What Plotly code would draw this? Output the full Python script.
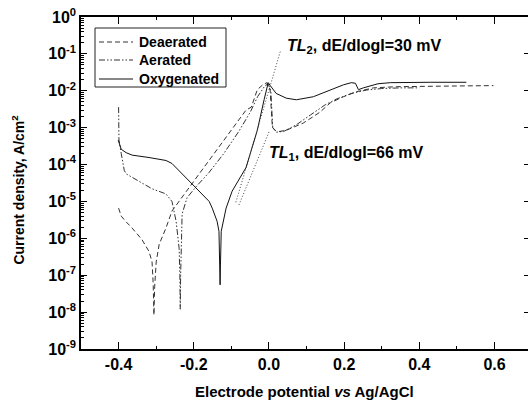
import numpy as np
import plotly.graph_objects as go

# ---------------- data ----------------
E_dea = [-0.400, -0.393, -0.380, -0.364, -0.338, -0.319, -0.311, -0.308, -0.306, -0.304,
         -0.300, -0.292, -0.274, -0.258, -0.220, -0.180, -0.140, -0.100, -0.061, -0.047,
         -0.031, -0.015, -0.005, 0.003, 0.009, 0.019, 0.025, 0.046, 0.073, 0.091,
         0.118, 0.136, 0.163, 0.198, 0.232, 0.278, 0.339, 0.429, 0.500, 0.597]
I_dea = [6.6e-6, 4.0e-6, 2.8e-6, 1.9e-6, 9.3e-7, 4.4e-7, 2.3e-7, 6e-8, 8.3e-9, 5e-8,
         2.3e-7, 6.9e-7, 1.9e-6, 5.5e-6, 1.86e-5, 6.6e-5, 2.4e-4, 8.5e-4, 3.0e-3, 3.6e-3,
         1.07e-2, 1.5e-2, 1.66e-2, 1.07e-2, 1.03e-3, 8.0e-4, 7.8e-4, 8.5e-4, 1.1e-3, 1.33e-3,
         2.0e-3, 2.65e-3, 4.7e-3, 6.9e-3, 9.4e-3, 1.2e-2, 1.29e-2, 1.29e-2, 1.35e-2, 1.38e-2]

E_aer = [-0.400, -0.399, -0.393, -0.385, -0.380, -0.338, -0.311, -0.274, -0.258, -0.247,
         -0.239, -0.237, -0.236, -0.235, -0.234, -0.231, -0.218, -0.194, -0.160, -0.120,
         -0.080, -0.050, -0.030, -0.010, -0.002, 0.005, 0.010, 0.020, 0.040, 0.073,
         0.110, 0.150, 0.180, 0.220, 0.260, 0.300, 0.350, 0.400]
I_aer = [3.6e-3, 4.6e-4, 2.0e-4, 7.0e-5, 5.6e-5, 3.2e-5, 2.2e-5, 1.6e-5, 1.0e-5, 2.9e-6,
         5.4e-7, 1.0e-7, 1.2e-8, 1.0e-7, 5.4e-7, 4.6e-6, 1.26e-5, 2.5e-5, 6.0e-5, 2.0e-4,
         8.0e-4, 2.6e-3, 7.0e-3, 1.4e-2, 1.5e-2, 1.0e-2, 1.0e-3, 7.5e-4, 8.0e-4, 1.2e-3,
         2.2e-3, 4.2e-3, 6.0e-3, 8.5e-3, 1.05e-2, 1.15e-2, 1.2e-2, 1.2e-2]

E_oxy = [-0.401, -0.393, -0.380, -0.364, -0.319, -0.274, -0.258, -0.231, -0.194, -0.159,
         -0.151, -0.138, -0.133, -0.131, -0.130, -0.129, -0.127, -0.114, -0.098, -0.061,
         -0.031, -0.013, -0.002, 0.003, 0.019, 0.046, 0.073, 0.118, 0.163, 0.198,
         0.219, 0.230, 0.238, 0.251, 0.290, 0.323, 0.429, 0.525]
I_oxy = [4.6e-4, 2.6e-4, 2.1e-4, 1.8e-4, 1.55e-4, 1.29e-4, 1.07e-4, 5.6e-5, 2.3e-5, 1.0e-5,
         6.6e-6, 2.9e-6, 1.55e-6, 2e-7, 5.5e-8, 2e-7, 1.55e-6, 6.6e-6, 1.9e-5, 8.3e-5,
         8.5e-4, 5.7e-3, 1.66e-2, 1.4e-2, 8.5e-3, 6.3e-3, 5.7e-3, 6.9e-3, 1.07e-2, 1.45e-2,
         1.66e-2, 1.6e-2, 1.07e-2, 1.2e-2, 1.55e-2, 1.66e-2, 1.7e-2, 1.7e-2]

# Tafel lines (endpoints)
E_TL1 = [-0.080, 0.002]
I_TL1 = [8.0e-6, 8.5e-4]
E_TL2 = [-0.088, 0.030]
I_TL2 = [9.5e-6, 1.15e-1]

series_names = ["Deaerated", "Aerated", "Oxygenated"]
y_exponents = list(range(-9, 1))
x_major = [-0.4, -0.2, 0.0, 0.2, 0.4, 0.6]
x_labels = ["-0.4", "-0.2", "0.0", "0.2", "0.4", "0.6"]

# ---------------- styling ----------------
FONT = "Liberation Sans, Arial, sans-serif"
styles = [
    dict(color="#333333", width=1, dash="5px,3px"),
    dict(color="#333333", width=1, dash="6px,2px,1.5px,2px,1.5px,2px"),
    dict(color="#111111", width=1, dash="solid"),
]

fig = go.Figure()
for name, ex, iy, st in zip(series_names, [E_dea, E_aer, E_oxy], [I_dea, I_aer, I_oxy], styles):
    fig.add_trace(go.Scatter(x=ex, y=iy, mode="lines", name=name, line=st, showlegend=False))
fig.add_trace(go.Scatter(x=E_TL1, y=I_TL1, mode="lines", showlegend=False,
                         line=dict(color="#444444", width=1, dash="1px,2px")))
fig.add_trace(go.Scatter(x=E_TL2, y=I_TL2, mode="lines", showlegend=False,
                         line=dict(color="#444444", width=1, dash="1px,2px")))
# invisible trace to carry right axis ticks
fig.add_trace(go.Scatter(x=[None], y=[None], yaxis="y2", showlegend=False))

minor_vals = [m * 10.0 ** k for k in range(-9, 0) for m in range(2, 10)]

fig.update_layout(
    width=528, height=403,
    margin=dict(l=81, r=0, t=17, b=54),
    paper_bgcolor="white", plot_bgcolor="white",
    font=dict(family=FONT, size=14, color="black"),
    showlegend=False,
    xaxis=dict(range=[-0.5, 0.689], showline=True, linecolor="black", linewidth=1.5,
               mirror="ticks", ticks="inside", ticklen=7, tickwidth=1, tickcolor="black",
               tickvals=x_major, ticktext=["<b>%s</b>" % t for t in x_labels],
               showgrid=False, zeroline=False,
               minor=dict(ticks="inside", ticklen=3, tickvals=[-0.3, -0.1, 0.1, 0.3, 0.5],
                          tickcolor="black", showgrid=False),
               tickfont=dict(size=16)),
    yaxis=dict(type="log", range=[-9, 0], showline=True, linecolor="black", linewidth=1.5,
               mirror=False, ticks="inside", ticklen=6, tickwidth=1, tickcolor="black",
               tickvals=[10.0 ** k for k in y_exponents],
               ticktext=["<b>10<sup>%d</sup></b>" % k for k in y_exponents],
               showgrid=False, zeroline=False,
               minor=dict(ticks="inside", ticklen=3, tickvals=minor_vals,
                          tickcolor="black", showgrid=False),
               tickfont=dict(size=16)),
    yaxis2=dict(type="log", range=[-9, 0], overlaying="y", side="right",
                showline=False, ticks="inside", ticklen=4, tickcolor="black",
                tickvals=[10.0 ** k for k in y_exponents], showticklabels=False,
                showgrid=False, zeroline=False),
)

# ---- legend drawn in paper coordinates ----
def px2paper(px, py):
    return (px - 81) / 447.0, 1 - (py - 17) / 332.0

bx0, by0 = px2paper(95, 28)
bx1, by1 = px2paper(226, 87)
fig.add_shape(type="rect", xref="paper", yref="paper", x0=bx0, y0=by1, x1=bx1, y1=by0,
              line=dict(color="#222222", width=1), fillcolor="white", layer="above")
for i, (name, st) in enumerate(zip(series_names, styles)):
    rowy = [42, 60, 79][i]
    lx0, ly = px2paper(99, rowy)
    lx1, _ = px2paper(133, rowy)
    tx, _ = px2paper(137, rowy)
    fig.add_shape(type="line", xref="paper", yref="paper", x0=lx0, x1=lx1, y0=ly, y1=ly,
                  line=st, layer="above")
    fig.add_annotation(x=tx, y=ly, xref="paper", yref="paper", xanchor="left", yanchor="middle",
                       text="<b>%s</b>" % name, showarrow=False,
                       font=dict(family=FONT, size=14))

fig.add_annotation(x=0.043, y=-0.81, xref="x", yref="y", xanchor="left", yanchor="middle",
                   text="<b><i>TL</i><sub>2</sub>, dE/dlogI=30 mV</b>", showarrow=False,
                   font=dict(family=FONT, size=16))
fig.add_annotation(x=-0.005, y=-3.71, xref="x", yref="y", xanchor="left", yanchor="middle",
                   text="<b><i>TL</i><sub>1</sub>, dE/dlogI=66 mV</b>", showarrow=False,
                   font=dict(family=FONT, size=16))

fig.add_annotation(x=0.5, y=0.0, xref="paper", yref="paper", yshift=-32,
                   xanchor="center", yanchor="top",
                   text="<b>Electrode potential <i>vs</i> Ag/AgCl</b>", showarrow=False,
                   font=dict(family=FONT, size=15))
fig.add_annotation(x=-0.141, y=0.48, xref="paper", yref="paper", textangle=-90,
                   xanchor="center", yanchor="middle",
                   text="<b>Current density, A/cm<sup>2</sup></b>", showarrow=False,
                   font=dict(family=FONT, size=14))

fig.write_html("out.html")
